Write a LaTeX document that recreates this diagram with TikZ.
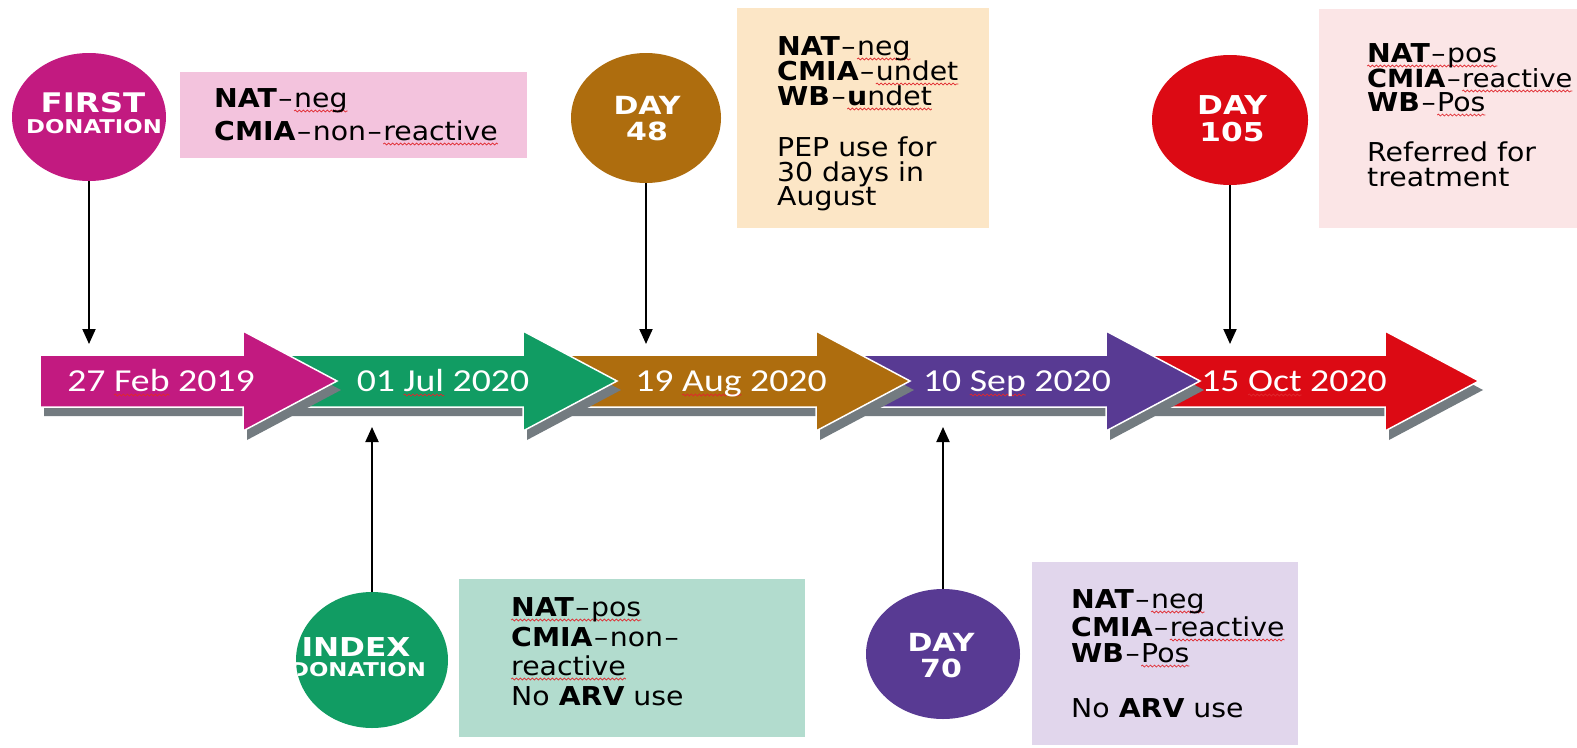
\documentclass[tikz,border=0pt]{standalone}
\usepackage{fontspec}
\usetikzlibrary{arrows.meta,shapes.geometric,decorations.pathmorphing}
\setmainfont{DejaVu Sans}[FakeStretch=1.09]
\newfontfamily\circfont{DejaVu Sans Bold}[FakeStretch=1.2]
\newfontfamily\datefont{Carlito}[FakeStretch=1.18]
\newcommand\dsh{\kern1.5pt–\kern1.5pt}

\definecolor{cMag}{HTML}{C21A80}
\definecolor{bMag}{HTML}{F3C3DD}
\definecolor{cGrn}{HTML}{119C63}
\definecolor{bGrn}{HTML}{B2DCCE}
\definecolor{cBrn}{HTML}{AE6D0E}
\definecolor{bBrn}{HTML}{FCE6C6}
\definecolor{cPur}{HTML}{583A93}
\definecolor{bPur}{HTML}{E1D6EC}
\definecolor{cRed}{HTML}{DC0A14}
\definecolor{bRed}{HTML}{FBE5E6}
\definecolor{tlshade}{HTML}{737B80}
\definecolor{sqred}{HTML}{E0282E}

% red wavy proofing underline under a word
\newsavebox\sqbox
\newlength\sqwd
\newcommand\sq[1]{\leavevmode\sbox\sqbox{#1}\setlength\sqwd{\wd\sqbox}%
  \rlap{\tikz[overlay,x=1pt,y=1pt]\draw[sqred, line width=0.7pt, decorate,
    decoration={snake, amplitude=1pt, segment length=4pt}]
    (0pt,-4pt) -- (\sqwd,-4pt);}\usebox\sqbox}

% one segment of the timeline: colour, left end, head base, tip
\newcommand\tlarrow[4]{%
  \fill[tlshade, shift={(4,9)}] (#2,355) -- (#3,355) -- (#3,331) -- (#4,381)
    -- (#3,431) -- (#3,407) -- (#2,407) -- cycle;
  \filldraw[tl, fill=#1] (#2,355) -- (#3,355) -- (#3,331) -- (#4,381)
    -- (#3,431) -- (#3,407) -- (#2,407) -- cycle;
}

\begin{document}
\begin{tikzpicture}[x=1pt,y=-1pt,
  box/.style={rectangle, draw=none, inner sep=0pt},
  event/.style={ellipse, draw=none, inner sep=0pt},
  txt/.style={anchor=base west, inner sep=0pt, text=black,
    font=\fontsize{26}{26}\selectfont},
  lbl/.style={anchor=base, inner sep=0pt, text=white},
  date/.style={anchor=base, inner sep=0pt, text=white,
    font=\datefont\fontsize{32}{32}\selectfont},
  tl/.style={draw=white, line width=1.5pt, line join=miter},
  conn/.style={line width=2pt, -{Triangle[length=15pt,width=13pt]}}]

\useasboundingbox (0,0) rectangle (1577,747);
\fill[white] (0,0) rectangle (1577,747);

% result boxes
\node[box, fill=bMag, minimum width=347pt, minimum height=86pt]  (b1) at (353.5,115) {};
\node[box, fill=bBrn, minimum width=252pt, minimum height=220pt] (b2) at (863,118) {};
\node[box, fill=bRed, minimum width=258pt, minimum height=219pt] (b3) at (1448,118.5) {};
\node[box, fill=bGrn, minimum width=346pt, minimum height=158pt] (b4) at (632,658) {};
\node[box, fill=bPur, minimum width=266pt, minimum height=183pt] (b5) at (1165,653.5) {};

% box texts
\node[txt] (t1a) at (214,107) {\textbf{NAT}\dsh \sq{neg}};
\node[txt] (t1b) at (214,140) {\textbf{CMIA}\dsh non\dsh \sq{reactive}};

\node[txt] (t2a) at (777,55)  {\textbf{NAT}\dsh \sq{neg}};
\node[txt] (t2b) at (777,80)  {\textbf{CMIA}\dsh \sq{undet}};
\node[txt] (t2c) at (777,105) {\textbf{WB}\dsh \sq{\textbf{u}ndet}};
\node[txt] (t2d) at (777,156) {PEP use for};
\node[txt] (t2e) at (777,181) {30 days in};
\node[txt] (t2f) at (777,205) {August};

\node[txt] (t3a) at (1367,62)  {\sq{\textbf{NAT}\dsh pos}};
\node[txt, font=\fontsize{25}{25}\selectfont] (t3b) at (1367,87)  {\textbf{CMIA}\dsh \sq{reactive}};
\node[txt] (t3c) at (1367,111) {\textbf{WB}\dsh \sq{Pos}};
\node[txt] (t3d) at (1367,161) {Referred for};
\node[txt] (t3e) at (1367,186) {treatment};

\node[txt] (t4a) at (511,616) {\sq{\textbf{NAT}\dsh pos}};
\node[txt] (t4b) at (511,646) {\textbf{CMIA}\dsh non\dsh};
\node[txt] (t4c) at (511,675) {\sq{reactive}};
\node[txt] (t4d) at (511,705) {No \textbf{ARV} use};

\node[txt] (t5a) at (1071,608) {\textbf{NAT}\dsh \sq{neg}};
\node[txt] (t5b) at (1071,636) {\textbf{CMIA}\dsh \sq{reactive}};
\node[txt] (t5c) at (1071,662) {\textbf{WB}\dsh \sq{Pos}};
\node[txt] (t5d) at (1071,717) {No \textbf{ARV} use};

% event circles
\node[event, fill=cMag, minimum width=154pt, minimum height=128pt] (c1) at (89,117) {};
\node[event, fill=cBrn, minimum width=150pt, minimum height=130pt] (c2) at (646,118) {};
\node[event, fill=cRed, minimum width=156pt, minimum height=130pt] (c3) at (1230,120) {};
\node[event, fill=cGrn, minimum width=152pt, minimum height=136pt] (c4) at (372,660) {};
\node[event, fill=cPur, minimum width=154pt, minimum height=130pt] (c5) at (943,654) {};

\begin{scope}
  \clip (c1.center) ellipse [x radius=77pt, y radius=64pt];
  \node[lbl, font=\circfont\fontsize{27}{27}\selectfont] (l1a) at (93,112) {FIRST};
  \node[lbl, font=\circfont\fontsize{19}{19}\selectfont] (l1b) at (94,133) {DONATION};
\end{scope}
\node[lbl, font=\circfont\fontsize{25}{25}\selectfont] (l2a) at (647,114) {DAY};
\node[lbl, font=\circfont\fontsize{25}{25}\selectfont] (l2b) at (647,140) {48};
\node[lbl, font=\circfont\fontsize{26}{26}\selectfont] (l3a) at (1232,114) {DAY};
\node[lbl, font=\circfont\fontsize{26}{26}\selectfont] (l3b) at (1232,141) {105};
\begin{scope}
  \clip (c4.center) ellipse [x radius=76pt, y radius=68pt];
  \node[lbl, font=\circfont\fontsize{26}{26}\selectfont] (l4a) at (356,656) {INDEX};
  \node[lbl, font=\circfont\fontsize{19}{19}\selectfont] (l4b) at (358,676) {DONATION};
\end{scope}
\node[lbl, font=\circfont\fontsize{25}{25}\selectfont] (l5a) at (941,651) {DAY};
\node[lbl, font=\circfont\fontsize{25}{25}\selectfont] (l5b) at (941,677) {70};

% timeline, drawn right to left so each head lies over the next body
\tlarrow{cRed}{1106}{1385}{1479}
\tlarrow{cPur}{816}{1106}{1200}
\tlarrow{cBrn}{523}{816}{910}
\tlarrow{cGrn}{243}{523}{617}
\tlarrow{cMag}{40}{243}{337}

\node[date] (d1) at (161,391)  {27 \sq{Feb} 2019};
\node[date] (d2) at (443,391)  {01 \sq{Jul} 2020};
\node[date] (d3) at (731,391)  {19 \sq{Aug} 2020};
\node[date] (d4) at (1017,391) {10 \sq{Sep} 2020};
\node[date] (d5) at (1294,391) {15 \sq{Oct} 2020};

% connector ends at the timeline
\coordinate (above) at (0,344);
\coordinate (below) at (0,427);

\draw[conn] (c1.south) -- (c1.south |- above);
\draw[conn] (c2.south) -- (c2.south |- above);
\draw[conn] (c3.south) -- (c3.south |- above);
\draw[conn] (c4.north) -- (c4.north |- below);
\draw[conn] (c5.north) -- (c5.north |- below);
\end{tikzpicture}
\end{document}
